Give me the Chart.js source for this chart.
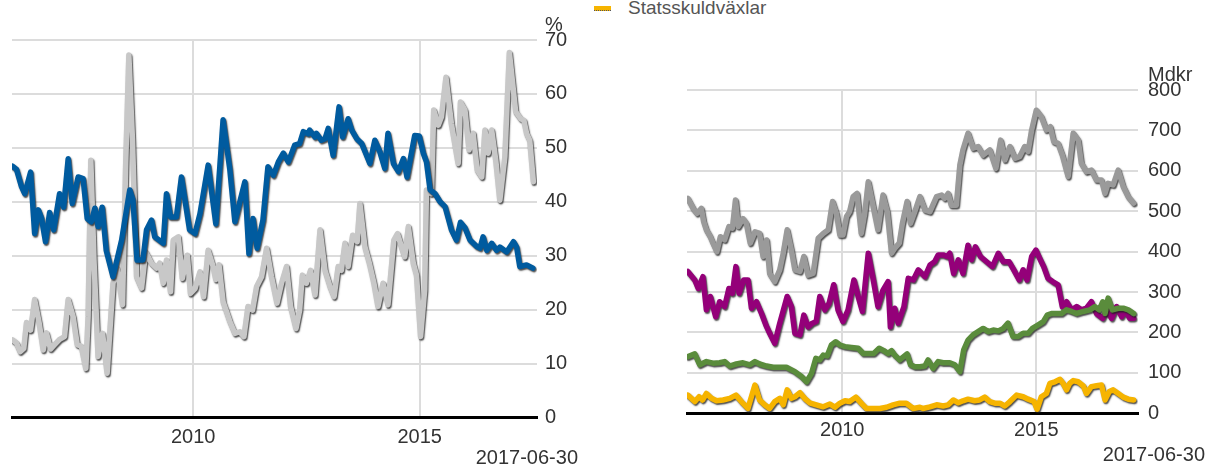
<!DOCTYPE html>
<html lang="sv">
<head>
<meta charset="utf-8">
<title>Statsskuld</title>
<script src="https://cdn.jsdelivr.net/npm/chart.js@4.4.1/dist/chart.umd.min.js"></script>
<style>
  html, body { margin: 0; padding: 0; background: #fff; }
  body { width: 1210px; height: 467px; position: relative; overflow: hidden; font-family: Arial, "Liberation Sans", sans-serif; }
  canvas { position: absolute; top: 0; }
  #chartAndel { left: 0; }
  #chartMdkr { left: 605px; }
  .legend-mark { position: absolute; left: 594px; top: 6px; width: 17px; height: 4px; background: #f6b400; border-bottom: 1px dotted #555; }
  .legend-text { position: absolute; left: 628px; top: -2px; font-size: 19px; line-height: 19px; color: #555; white-space: nowrap; }
</style>
</head>
<body>
<div class="legend-mark"></div>
<div class="legend-text">Statsskuldväxlar</div>
<canvas id="chartAndel" width="605" height="467"></canvas>
<canvas id="chartMdkr" width="605" height="467"></canvas>
<script>
"use strict";

// vänster diagram, procent
const blueYears = [2006.01,2006.10,2006.21,2006.28,2006.41,2006.50,2006.58,2006.65,2006.74,2006.83,2006.92,2007.05,2007.14,2007.24,2007.33,2007.46,2007.57,2007.66,2007.75,2007.83,2007.90,2007.99,2008.08,2008.23,2008.42,2008.60,2008.67,2008.76,2008.89,2008.97,2009.08,2009.15,2009.34,2009.41,2009.50,2009.63,2009.74,2009.92,2010.04,2010.15,2010.33,2010.50,2010.66,2010.81,2010.92,2011.14,2011.23,2011.32,2011.41,2011.54,2011.65,2011.77,
  2011.88,2011.99,2012.10,2012.24,2012.35,2012.43,2012.54,2012.57,2012.69,2012.72,2012.83,2012.91,2012.98,2013.09,2013.22,2013.30,2013.42,2013.50,2013.61,2013.72,2013.90,2014.01,2014.12,2014.23,2014.30,2014.42,2014.53,2014.64,2014.72,2014.89,2014.99,2015.08,2015.15,2015.23,2015.34,2015.45,2015.56,2015.70,2015.81,2015.90,2016.00,2016.11,2016.26,2016.33,2016.40,2016.48,2016.59,2016.70,2016.77,2016.92,2017.07,2017.14,2017.21,2017.36,2017.50];
const blueValues = [46.6,46.0,42.8,41.5,45.5,34.1,38.5,37.0,32.6,38.0,34.8,41.5,39.0,48.0,39.7,44.6,44.3,36.9,36.3,38.8,35.4,39.0,31.0,26.1,32.9,42.2,40.3,29.2,29.2,34.8,36.6,33.5,32.3,41.5,37.2,37.2,44.6,34.8,34.1,37.8,46.8,35.9,55.2,45.9,36.3,43.7,30.4,36.9,31.4,36.6,46.5,44.9,
  47.4,49.0,47.4,50.5,50.8,53.0,52.6,53.3,52.0,52.7,51.4,51.7,53.6,48.6,57.6,52.0,55.4,53.3,51.7,50.8,47.1,51.4,49.3,46.2,52.7,47.1,45.6,48.0,44.6,52.3,52.2,49.0,47.4,42.2,41.5,40.0,39.1,34.8,32.9,36.2,35.2,32.9,31.7,31.4,33.5,31.0,32.3,31.0,31.6,30.7,32.6,31.6,28.0,28.3,27.7];

const lightYears = [2006.01,2006.10,2006.18,2006.26,2006.32,2006.41,2006.50,2006.60,2006.69,2006.76,2006.85,2006.94,2007.05,2007.16,2007.24,2007.35,2007.44,2007.53,2007.63,2007.68,2007.74,2007.81,2007.90,2008.00,2008.10,2008.23,2008.32,2008.44,2008.51,2008.58,2008.66,2008.75,2008.86,2008.95,2009.08,2009.19,2009.26,2009.34,2009.41,2009.50,2009.56,2009.67,2009.76,2009.87,2009.94,2010.04,2010.15,2010.23,2010.33,2010.44,2010.50,2010.57,2010.66,2010.81,2010.92,2011.03,2011.12,2011.21,2011.31,2011.40,2011.51,2011.62,2011.73,2011.85,
  2011.95,2012.06,2012.15,2012.27,2012.35,2012.41,2012.50,2012.59,2012.69,2012.80,2012.91,2013.02,2013.11,2013.20,2013.27,2013.35,2013.42,2013.52,2013.62,2013.68,2013.79,2013.89,2013.99,2014.08,2014.19,2014.30,2014.43,2014.51,2014.60,2014.67,2014.75,2014.86,2014.93,2015.02,2015.11,2015.15,2015.26,2015.31,2015.41,2015.48,2015.58,2015.70,2015.85,2015.90,2016.00,2016.09,2016.18,2016.27,2016.37,2016.44,2016.51,2016.59,2016.68,2016.77,2016.88,2016.98,2017.12,2017.23,2017.30,2017.36,2017.43,2017.51];
const lightValues = [14.4,13.8,12.2,12.8,17.6,16.2,21.9,17.5,12.5,15.7,12.7,13.5,14.5,15.0,21.9,18.7,13.5,13.2,9.1,18.7,47.7,29.2,11.3,15.6,8.2,24.9,27.7,20.9,47.1,67.2,51.4,26.1,24.0,30.7,28.6,27.7,28.6,24.9,29.2,23.3,32.9,33.5,25.8,30.1,23.0,23.9,27.0,22.4,31.0,28.0,25.6,28.3,21.5,17.8,15.6,15.9,15.0,20.6,19.9,24.3,26.1,31.4,26.1,21.2,
  24.9,28.0,20.6,16.5,19.9,26.4,24.9,27.3,22.7,34.8,27.3,24.3,22.4,28.0,27.3,32.3,28.0,33.8,32.6,39.7,31.7,28.6,24.9,20.6,24.9,20.9,32.9,34.1,31.6,29.8,35.4,28.6,26.4,15.0,23.6,42.2,41.5,57.0,54.2,55.7,63.1,54.5,47.1,58.5,57.0,49.6,52.7,45.9,44.6,53.3,49.0,53.3,47.7,40.3,48.3,67.7,56.7,55.4,55.1,52.7,51.4,43.7];

// höger diagram, miljarder kronor
const grayYears = [2006.02,2006.16,2006.26,2006.37,2006.43,2006.50,2006.60,2006.67,2006.77,2006.86,2006.97,2007.08,2007.17,2007.25,2007.32,2007.44,2007.53,2007.63,2007.75,2007.87,2007.96,2008.05,2008.13,2008.26,2008.39,2008.48,2008.58,2008.69,2008.78,2008.91,2009.01,2009.12,2009.25,2009.38,2009.51,2009.64,2009.75,2009.85,2009.94,2010.02,2010.11,2010.19,2010.28,2010.38,2010.49,2010.58,2010.67,2010.78,2010.92,2011.05,2011.16,2011.27,2011.35,2011.47,2011.55,2011.67,2011.76,2011.87,
  2012.00,2012.13,2012.26,2012.43,2012.56,2012.64,2012.73,2012.81,2012.94,2013.03,2013.11,2013.24,2013.37,2013.50,2013.63,2013.80,2013.96,2014.08,2014.19,2014.32,2014.45,2014.57,2014.70,2014.79,2014.88,2015.00,2015.13,2015.26,2015.36,2015.45,2015.56,2015.67,2015.82,2015.95,2016.08,2016.16,2016.29,2016.42,2016.55,2016.68,2016.77,2016.85,2016.98,2017.11,2017.24,2017.37,2017.51];
const grayValues = [532,507,495,507,474,454,437,421,400,437,429,462,458,528,462,482,470,421,449,445,388,429,346,326,355,396,454,404,355,351,388,342,346,433,445,454,524,495,441,441,487,499,536,544,445,495,573,520,454,540,499,396,408,421,470,524,470,499,
  536,503,499,536,540,532,544,515,515,614,652,693,656,660,639,652,606,676,627,660,631,635,660,648,701,750,734,701,709,672,668,639,586,693,676,619,598,602,577,577,544,569,565,602,561,536,520];

const purpleYears = [2006.02,2006.20,2006.29,2006.41,2006.50,2006.60,2006.74,2006.84,2006.97,2007.08,2007.17,2007.26,2007.34,2007.46,2007.57,2007.66,2007.79,2007.92,2008.03,2008.13,2008.26,2008.39,2008.58,2008.69,2008.78,2008.91,2009.01,2009.12,2009.23,2009.33,2009.42,2009.55,2009.66,2009.78,2009.89,2010.02,2010.15,2010.30,2010.41,2010.52,2010.67,2010.80,2010.92,2011.05,2011.18,2011.24,2011.35,2011.44,2011.59,2011.70,2011.83,2011.96,
  2012.13,2012.26,2012.38,2012.47,2012.60,2012.70,2012.77,2012.87,2012.99,2013.11,2013.24,2013.33,2013.43,2013.56,2013.72,2013.87,2014.02,2014.15,2014.30,2014.42,2014.56,2014.66,2014.76,2014.88,2014.99,2015.09,2015.19,2015.30,2015.42,2015.56,2015.67,2015.78,2015.91,2016.04,2016.16,2016.29,2016.42,2016.55,2016.71,2016.81,2016.94,2017.07,2017.20,2017.28,2017.41,2017.51];
const purpleValues = [351,330,309,338,256,289,239,276,264,309,297,363,297,330,330,260,276,247,219,198,173,223,289,264,198,194,243,214,223,227,289,256,272,318,256,227,256,330,289,252,396,330,264,305,326,214,260,223,264,334,330,355,
  338,367,375,392,392,388,396,346,380,346,416,380,412,388,375,363,396,375,375,355,330,355,330,388,404,383,363,334,326,318,264,276,256,264,256,260,276,247,235,256,235,264,239,256,235,235];

const greenYears = [2006.02,2006.20,2006.33,2006.50,2006.67,2006.84,2006.97,2007.10,2007.27,2007.44,2007.62,2007.75,2007.87,2008.05,2008.22,2008.39,2008.56,2008.78,2008.95,2009.08,2009.21,2009.32,2009.42,2009.51,2009.61,2009.72,2009.83,2009.94,2010.07,2010.24,2010.41,2010.54,2010.71,2010.81,2010.95,2011.07,2011.18,2011.27,2011.35,2011.48,2011.67,2011.76,2011.87,
  2012.00,2012.13,2012.21,2012.34,2012.47,2012.60,2012.77,2012.90,2013.03,2013.13,2013.24,2013.37,2013.50,2013.63,2013.76,2013.89,2014.02,2014.15,2014.27,2014.40,2014.53,2014.66,2014.79,2014.90,2015.05,2015.18,2015.28,2015.39,2015.52,2015.65,2015.78,2015.91,2016.04,2016.21,2016.38,2016.51,2016.62,2016.71,2016.77,2016.85,2016.96,2017.11,2017.24,2017.37,2017.51];
const greenValues = [140,147,120,128,124,125,128,117,122,125,120,128,122,117,114,114,114,103,91,78,99,136,132,144,142,169,177,169,165,163,161,148,148,148,161,155,148,155,144,132,147,120,115,
  115,117,132,111,128,125,125,120,103,157,181,194,202,210,202,206,204,210,223,190,190,198,198,210,219,227,243,247,247,247,256,252,247,252,256,264,256,276,247,285,256,260,260,256,247];

const yellowYears = [2006.02,2006.20,2006.31,2006.40,2006.50,2006.63,2006.76,2006.93,2007.10,2007.26,2007.40,2007.57,2007.75,2007.87,2008.00,2008.13,2008.26,2008.39,2008.48,2008.58,2008.69,2008.78,2008.91,2009.03,2009.16,2009.33,2009.51,2009.68,2009.81,2009.94,2010.07,2010.19,2010.35,2010.49,2010.62,2010.80,2010.97,2011.14,2011.31,2011.48,2011.65,2011.83,
  2012.00,2012.08,2012.26,2012.43,2012.60,2012.73,2012.86,2012.99,2013.11,2013.24,2013.41,2013.54,2013.67,2013.80,2013.93,2014.06,2014.19,2014.32,2014.49,2014.66,2014.79,2014.94,2015.02,2015.13,2015.26,2015.35,2015.48,2015.61,2015.69,2015.78,2015.86,2015.95,2016.08,2016.21,2016.29,2016.42,2016.55,2016.68,2016.77,2016.88,2016.98,2017.11,2017.24,2017.37,2017.51];
const yellowValues = [45,29,41,33,49,37,31,33,37,45,29,12,70,33,21,12,29,37,21,58,37,41,51,37,26,21,16,23,15,25,31,29,40,25,12,12,12,15,21,25,25,12,
  15,12,16,21,18,21,33,26,31,35,31,33,40,29,25,25,18,29,45,41,35,29,10,41,49,74,78,84,74,58,74,81,78,68,49,66,68,70,33,54,58,49,40,35,33];

const xTicks = [2010, 2015];
const pctTicksMax = 70;
const mdkrTicksMax = 800;

const FONT = { family: "Arial, 'Liberation Sans', sans-serif", size: 20 };
const TEXT_COLOR = "#333";
const GRID_COLOR = "#dcdcdc";

const points = (xs, ys) => xs.map((x, i) => ({ x: x, y: ys[i] }));

const lineSet = (label, xs, ys, color) => ({
    label: label,
    data: points(xs, ys),
    borderColor: color,
    backgroundColor: color,
    borderWidth: 5.5,
    pointRadius: 0,
    tension: 0,
    borderJoinStyle: "round",
    borderCapStyle: "round",
    fill: false
});

// mörk skugga längs linjerna
const lineShadow = {
    id: "lineShadow",
    beforeDatasetsDraw(chart) {
        const ctx = chart.ctx;
        ctx.save();
        ctx.shadowColor = "rgba(30,30,30,0.8)";
        ctx.shadowBlur = 1.5;
        ctx.shadowOffsetX = 1;
        ctx.shadowOffsetY = 1.5;
    },
    afterDatasetsDraw(chart) {
        chart.ctx.restore();
    }
};

// enhet ovanför axeln och datum nere till höger
const extraTexts = {
    id: "extraTexts",
    afterDraw(chart, args, opts) {
        const { ctx, chartArea } = chart;
        ctx.save();
        ctx.font = `${FONT.size}px ${FONT.family}`;
        ctx.fillStyle = TEXT_COLOR;
        ctx.textAlign = "left";
        ctx.textBaseline = "alphabetic";
        ctx.fillText(opts.unit, chartArea.right + opts.tickPad, chartArea.top - 9);
        ctx.textAlign = "right";
        ctx.textBaseline = "middle";
        ctx.fillText(opts.date, opts.dateX, opts.dateY);
        ctx.restore();
    }
};

function makeChart(id, datasets, cfg) {
    const canvas = document.getElementById(id);
    return new Chart(canvas.getContext("2d"), {
        type: "line",
        data: { datasets: datasets },
        plugins: [lineShadow, extraTexts],
        options: {
            responsive: false,
            animation: false,
            events: [],
            layout: { padding: { left: cfg.left, top: cfg.top, right: 0, bottom: 0 } },
            plugins: {
                legend: { display: false },
                tooltip: { enabled: false },
                extraTexts: { unit: cfg.unit, tickPad: cfg.yPad, date: "2017-06-30", dateX: cfg.dateX, dateY: cfg.dateY }
            },
            scales: {
                x: {
                    type: "linear",
                    min: 2006,
                    max: cfg.xMax,
                    afterBuildTicks: scale => { scale.ticks = xTicks.map(v => ({ value: v })); },
                    afterFit: scale => { scale.height = cfg.xHeight; },
                    ticks: { font: FONT, color: TEXT_COLOR, padding: cfg.xPad, autoSkip: false, maxRotation: 0, callback: v => String(v) },
                    grid: { color: GRID_COLOR, lineWidth: 2, drawTicks: false },
                    border: { color: "#000", width: 3 }
                },
                y: {
                    position: "right",
                    min: 0,
                    max: cfg.yMax,
                    afterFit: scale => { scale.width = cfg.yWidth; },
                    ticks: { stepSize: cfg.yStep, font: FONT, color: TEXT_COLOR, padding: cfg.yPad },
                    grid: { color: GRID_COLOR, lineWidth: 2, drawTicks: false },
                    border: { display: false }
                }
            }
        }
    });
}

makeChart("chartAndel", [
    lineSet("Blå", blueYears, blueValues, "#005b9f"),
    lineSet("Grå", lightYears, lightValues, "#c8c8c8")
], { left: 12, top: 40, xMax: 2017.59, xHeight: 49.5, xPad: 8, yMax: pctTicksMax, yStep: 10, yWidth: 68, yPad: 8, unit: "%", dateX: 578, dateY: 458 });

makeChart("chartMdkr", [
    lineSet("Statsskuldväxlar", yellowYears, yellowValues, "#f6b400"),
    lineSet("Grön", greenYears, greenValues, "#5a8c3c"),
    lineSet("Lila", purpleYears, purpleValues, "#940079"),
    lineSet("Grå", grayYears, grayValues, "#9a9a9a")
], { left: 82, top: 90, xMax: 2017.62, xHeight: 53.7, xPad: 5, yMax: mdkrTicksMax, yStep: 100, yWidth: 72, yPad: 10, unit: "Mdkr", dateX: 600, dateY: 455 });
</script>
</body>
</html>
